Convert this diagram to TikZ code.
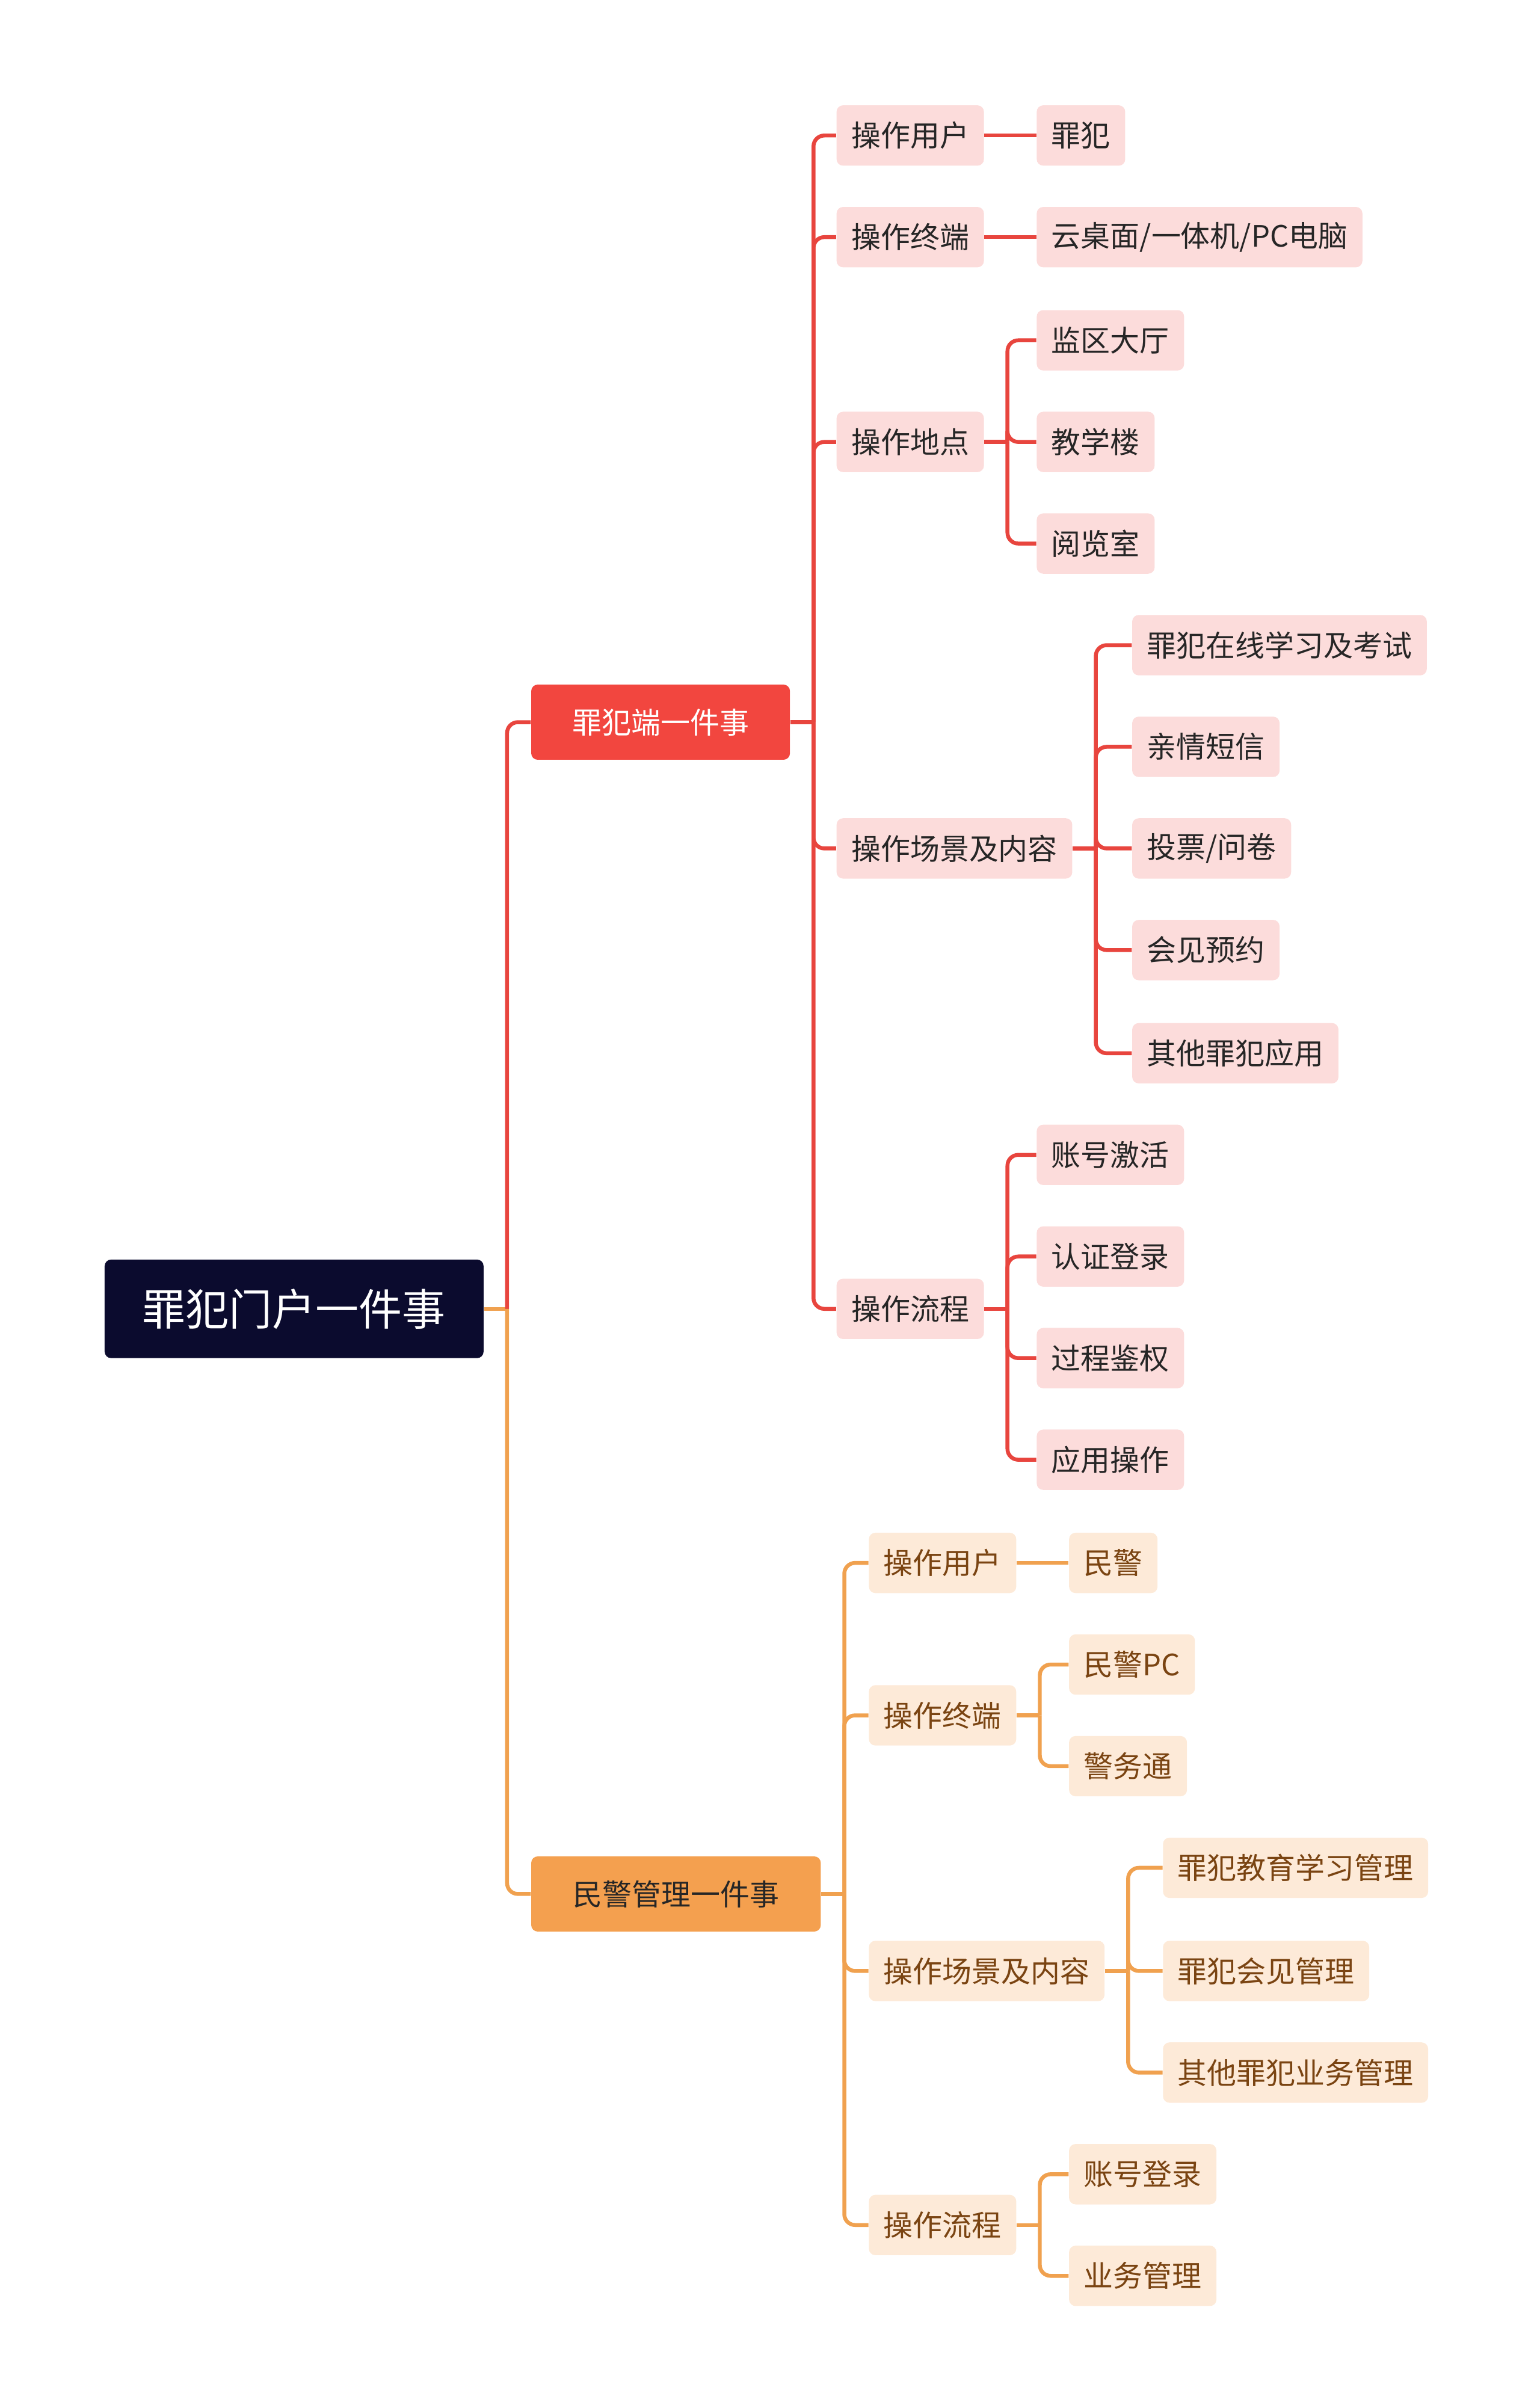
\documentclass[tikz,border=0pt]{standalone}
\usepackage{fontspec}
\setmainfont{Noto Sans CJK SC}
\usetikzlibrary{calc}
\definecolor{navy}{HTML}{0B0B2E}
\definecolor{redmain}{HTML}{F2463F}
\definecolor{redline}{HTML}{E8453E}
\definecolor{redsoft}{HTML}{FCDCDB}
\definecolor{orgmain}{HTML}{F4A04F}
\definecolor{orgline}{HTML}{F0A14F}
\definecolor{orgsoft}{HTML}{FDEAD8}
\definecolor{orgtext}{HTML}{7A4412}
\tikzset{
  box/.style={rounded corners=3pt, inner xsep=0.24cm, minimum height=0.98cm, font=\fontsize{13.6pt}{16pt}\selectfont},
  rootbox/.style={box, fill=navy, text=white, minimum width=6.15cm, minimum height=1.6cm, font=\fontsize{20pt}{24pt}\selectfont},
  redtop/.style={box, fill=redmain, text=white, minimum width=4.2cm, minimum height=1.22cm},
  orgtop/.style={box, fill=orgmain, text=black!85, minimum width=4.7cm, minimum height=1.22cm},
  redleaf/.style={box, anchor=west, fill=redsoft, text=black!85},
  orgleaf/.style={box, anchor=west, fill=orgsoft, text=orgtext},
  redlink/.style={draw=redline, line width=1.8pt, rounded corners=5pt},
  orglink/.style={draw=orgline, line width=1.8pt, rounded corners=5pt}
}
\begin{document}
\begin{tikzpicture}[x=0.025cm, y=-0.025cm]
    \useasboundingbox (0,0) rectangle (1000,1558);

    % Root and main branches
    \node[rootbox] (root) at (191,850) {罪犯门户一件事};
    \node[redtop] (crim) at (429,469) {罪犯端一件事};
    \node[orgtop] (pol) at (439,1230) {民警管理一件事};

    % Prisoner side
    \node[redleaf] (cuser) at (543,88) {操作用户};
    \node[redleaf] (cterm) at (543,154) {操作终端};
    \node[redleaf] (cplace) at (543,287) {操作地点};
    \node[redleaf] (cscene) at (543,551) {操作场景及内容};
    \node[redleaf] (cflow) at (543,850) {操作流程};

    \node[redleaf] (c1) at (673,88) {罪犯};
    \node[redleaf] (c2) at (673,154) {云桌面/一体机/PC电脑};
    \node[redleaf] (c3) at (673,221) {监区大厅};
    \node[redleaf] (c4) at (673,287) {教学楼};
    \node[redleaf] (c5) at (673,353) {阅览室};
    \node[redleaf] (c6) at (735,419) {罪犯在线学习及考试};
    \node[redleaf] (c7) at (735,485) {亲情短信};
    \node[redleaf] (c8) at (735,551) {投票/问卷};
    \node[redleaf] (c9) at (735,617) {会见预约};
    \node[redleaf] (c10) at (735,684) {其他罪犯应用};
    \node[redleaf] (c11) at (673,750) {账号激活};
    \node[redleaf] (c12) at (673,816) {认证登录};
    \node[redleaf] (c13) at (673,882) {过程鉴权};
    \node[redleaf] (c14) at (673,948) {应用操作};

    % Police side
    \node[orgleaf] (puser) at (564,1015) {操作用户};
    \node[orgleaf] (pterm) at (564,1114) {操作终端};
    \node[orgleaf] (pscene) at (564,1280) {操作场景及内容};
    \node[orgleaf] (pflow) at (564,1445) {操作流程};

    \node[orgleaf] (p1) at (694,1015) {民警};
    \node[orgleaf] (p2) at (694,1081) {民警PC};
    \node[orgleaf] (p3) at (694,1147) {警务通};
    \node[orgleaf] (p4) at (755,1213) {罪犯教育学习管理};
    \node[orgleaf] (p5) at (755,1280) {罪犯会见管理};
    \node[orgleaf] (p6) at (755,1346) {其他罪犯业务管理};
    \node[orgleaf] (p7) at (694,1412) {账号登录};
    \node[orgleaf] (p8) at (694,1478) {业务管理};

    % Junctions
    \coordinate (jroot) at ($(root.east)+(15,0)$);
    \coordinate (jcrim) at ($(crim.east)+(15,0)$);
    \coordinate (jplace) at ($(cplace.east)+(15,0)$);
    \coordinate (jscene) at ($(cscene.east)+(15,0)$);
    \coordinate (jflow) at ($(cflow.east)+(15,0)$);
    \coordinate (jpol) at ($(pol.east)+(15,0)$);
    \coordinate (jpterm) at ($(pterm.east)+(15,0)$);
    \coordinate (jpscene) at ($(pscene.east)+(15,0)$);
    \coordinate (jpflow) at ($(pflow.east)+(15,0)$);

    % Edges
    \draw[orglink] (root.east) -- (jroot);
    \draw[redlink] (jroot) |- (crim.west);
    \draw[orglink] (jroot) |- (pol.west);

    \draw[redlink] (crim.east) -- (jcrim);
    \foreach \n in {cuser,cterm,cplace,cscene,cflow}
        \draw[redlink] (jcrim) |- (\n.west);
    \draw[redlink] (cuser.east) -- (c1.west);
    \draw[redlink] (cterm.east) -- (c2.west);
    \draw[redlink] (cplace.east) -- (jplace);
    \foreach \n in {c3,c4,c5}
        \draw[redlink] (jplace) |- (\n.west);
    \draw[redlink] (cscene.east) -- (jscene);
    \foreach \n in {c6,c7,c8,c9,c10}
        \draw[redlink] (jscene) |- (\n.west);
    \draw[redlink] (cflow.east) -- (jflow);
    \foreach \n in {c11,c12,c13,c14}
        \draw[redlink] (jflow) |- (\n.west);

    \draw[orglink] (pol.east) -- (jpol);
    \foreach \n in {puser,pterm,pscene,pflow}
        \draw[orglink] (jpol) |- (\n.west);
    \draw[orglink] (puser.east) -- (p1.west);
    \draw[orglink] (pterm.east) -- (jpterm);
    \foreach \n in {p2,p3}
        \draw[orglink] (jpterm) |- (\n.west);
    \draw[orglink] (pscene.east) -- (jpscene);
    \foreach \n in {p4,p5,p6}
        \draw[orglink] (jpscene) |- (\n.west);
    \draw[orglink] (pflow.east) -- (jpflow);
    \foreach \n in {p7,p8}
        \draw[orglink] (jpflow) |- (\n.west);
\end{tikzpicture}
\end{document}
